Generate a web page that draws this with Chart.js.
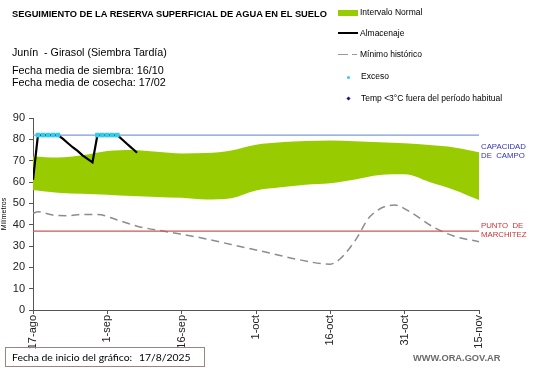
<!DOCTYPE html>
<html><head><meta charset="utf-8">
<script src="https://cdn.jsdelivr.net/npm/chart.js@4.4.1/dist/chart.umd.min.js"></script>
<style>
html,body{margin:0;padding:0;background:#fff;}
#wrap{position:relative;width:541px;height:368px;overflow:hidden;font-family:"Liberation Sans",Arial,sans-serif;color:#000;}
canvas{position:absolute;left:0;top:0;}
.t{position:absolute;white-space:nowrap;line-height:1;}
</style></head><body>
<div id="wrap">
<canvas id="c" width="541" height="368"></canvas>
<div class="t" style="left:12px;top:10px;font-size:9.3px;font-weight:bold;">SEGUIMIENTO DE LA RESERVA SUPERFICIAL DE AGUA EN EL SUELO</div>
<div class="t" style="left:12px;top:47px;font-size:10.7px;">Junín&nbsp; - Girasol (Siembra Tardía)</div>
<div class="t" style="left:12px;top:65px;font-size:10.8px;">Fecha media de siembra: 16/10</div>
<div class="t" style="left:12px;top:77px;font-size:10.8px;">Fecha media de cosecha: 17/02</div>

<div style="position:absolute;left:338px;top:10px;width:20px;height:6px;background:#99cc00;"></div>
<div class="t" style="left:360px;top:8px;font-size:8.5px;">Intervalo Normal</div>
<div style="position:absolute;left:338px;top:32px;width:20px;height:2px;background:#000;"></div>
<div class="t" style="left:360px;top:29px;font-size:8.5px;">Almacenaje</div>
<div style="position:absolute;left:338px;top:54px;width:10px;height:1px;background:#999;"></div>
<div style="position:absolute;left:352px;top:54px;width:5px;height:1px;background:#999;"></div>
<div class="t" style="left:360px;top:50px;font-size:8.5px;">Mínimo histórico</div>
<div style="position:absolute;left:346.5px;top:75.5px;width:3px;height:3px;border-radius:50%;background:#33ccee;"></div>
<div class="t" style="left:361px;top:72px;font-size:8.5px;">Exceso</div>
<div style="position:absolute;left:346.5px;top:97px;width:3px;height:3px;transform:rotate(45deg);background:#1a1a8c;"></div>
<div class="t" style="left:361px;top:94px;font-size:8.5px;">Temp &lt;3°C fuera del período habitual</div>

<div class="t" style="left:481px;top:142px;font-size:7.8px;color:#3333b3;line-height:9px;">CAPACIDAD<br>DE&nbsp; CAMPO</div>
<div class="t" style="left:481px;top:221px;font-size:7.8px;color:#cc3333;line-height:9px;">PUNTO&nbsp; DE<br>MARCHITEZ</div>

<div style="position:absolute;left:5px;top:347px;width:198px;height:18px;border:1px solid #9a8585;"></div>
<div class="t" style="left:12px;top:352px;font-size:10.4px;font-family:Lato,'Open Sans',sans-serif;">Fecha de inicio del gráfico:</div>
<div class="t" style="left:139px;top:352px;font-size:10.4px;font-family:Lato,'Open Sans',sans-serif;">17/8/2025</div>
<div class="t" style="left:413px;top:354px;font-size:9.3px;font-weight:bold;color:#6b6b6b;">WWW.ORA.GOV.AR</div>
</div>
<script>
// ---- data ----
const xTickLabels = ['17-ago','1-sep','16-sep','1-oct','16-oct','31-oct','15-nov'];
const bandDays  = [0,5,10,15,20,25,30,35,40,45,50,55,60,65,70,75,80,85,90];
const bandUpper = [72,71.5,72.5,74.5,75,74.2,73.4,73.6,74.8,77.5,78.6,79.2,79.5,79.1,78.6,78.2,77.3,76.2,74];
const bandLower = [56.3,55,54.5,54,53.4,53,52.6,51.8,52.4,56,57.5,58.7,59.4,61.2,63.3,63.6,60,56.3,51.6];
const minDays = [0,1,4,7,10,13,17,21,27,34,40,48,53,60,62,65,68,73,76,81,85,90];
const minVals = [45.3,46,44.5,44.2,44.8,44.8,42.2,39.3,36.7,33.8,30.7,26.6,23.9,21.5,24,32.5,43.8,49.2,46.1,38.6,34.6,32];
const almDays = [0,1,2,3,4,5,6,7,8,9,10,11,12,13,14,15,16,17,18,19,20,21];
const almVals = [61,82,82,82,82,82,80.3,78.3,76.3,74.6,72.5,70.8,69.2,82,82,82,82,82,79.9,77.8,75.8,73.7];
const excDays = [1,2,3,4,5,13,14,15,16,17];
const excVals = [82,82,82,82,82,82,82,82,82,82];
const capacidad = 82;
const marchitez = 37;
const xMin = 0, xMax = 90;

const pts = (xs, ys) => xs.map((x, i) => ({x, y: ys[i]}));

new Chart(document.getElementById('c'), {
  type: 'line',
  data: { datasets: [
    { label: 'Exceso', data: pts(excDays, excVals), showLine: false, pointStyle: 'rect', pointRadius: 3.3, pointBackgroundColor: '#33ccee', pointBorderWidth: 0 },
    { label: 'Almacenaje', data: pts(almDays, almVals), borderColor: '#000', borderWidth: 2.2, pointRadius: 0, tension: 0 },
    { label: 'Capacidad', data: pts([xMin, xMax], [capacidad, capacidad]), borderColor: '#7a9bd6', borderWidth: 1.2, pointRadius: 0 },
    { label: 'Marchitez', data: pts([xMin, xMax], [marchitez, marchitez]), borderColor: '#c65a5a', borderWidth: 1.2, pointRadius: 0 },
    { label: 'Mínimo histórico', data: pts(minDays, minVals), borderColor: '#8c8c8c', borderWidth: 1.5, borderDash: [8,5], pointRadius: 0, cubicInterpolationMode: 'monotone' },
    { label: 'Intervalo Normal', data: pts(bandDays, bandUpper), borderWidth: 0, borderColor: 'rgba(0,0,0,0)', backgroundColor: '#99cc00', fill: '+1', pointRadius: 0, cubicInterpolationMode: 'monotone' },
    { label: 'Inferior', data: pts(bandDays, bandLower), borderWidth: 0, borderColor: 'rgba(0,0,0,0)', fill: false, pointRadius: 0, cubicInterpolationMode: 'monotone' }
  ]},
  options: {
    responsive: false, animation: false, devicePixelRatio: 1,
    layout: { padding: { left: 0, right: 62, top: 118, bottom: 0 } },
    plugins: { legend: { display: false }, tooltip: { enabled: false } },
    scales: {
      x: {
        type: 'linear', min: xMin, max: xMax,
        afterFit: s => { s.height = 58; },
        ticks: { stepSize: 15, autoSkip: false, minRotation: 90, maxRotation: 90, padding: 1, color: '#222',
          font: { family: 'Liberation Sans', size: 11 },
          callback: v => xTickLabels[Math.round(v / 15)] },
        grid: { drawOnChartArea: false, drawTicks: true, tickLength: 4, color: '#555' },
        border: { color: '#555', width: 1 }
      },
      y: {
        min: 0, max: 90,
        afterFit: s => { s.width = 33; },
        ticks: { stepSize: 10, padding: 4, color: '#222', font: { family: 'Liberation Sans', size: 11 } },
        grid: { drawOnChartArea: false, drawTicks: true, tickLength: 4, color: '#555' },
        border: { color: '#555', width: 1 },
        title: { display: true, text: 'Milímetros', padding: 0, color: '#000', font: { family: 'Liberation Sans', size: 7 } }
      }
    }
  }
});
</script>
</body></html>
